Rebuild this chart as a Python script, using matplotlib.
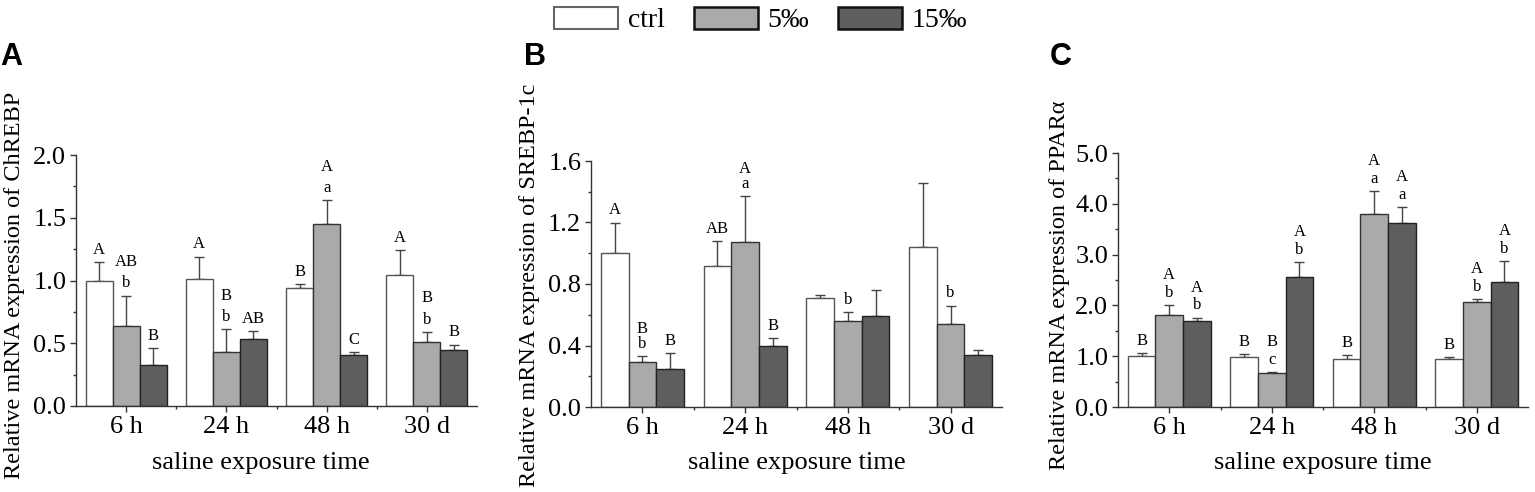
"""Relative mRNA expression of three lipid genes after saline exposure (panels A-C)."""
import matplotlib
matplotlib.use("Agg")
import matplotlib.pyplot as plt
from matplotlib.patches import Patch
from matplotlib.ticker import MultipleLocator, FixedLocator
import numpy as np

plt.rcParams["font.family"] = ["Liberation Serif", "DejaVu Serif"]

W, H = 1535, 492

groups = ["6 h", "24 h", "48 h", "30 d"]
series = ["ctrl", "5‰", "15‰"]
fills = ["#ffffff", "#aaaaaa", "#5e5e5e"]
edges = ["#555555", "#333333", "#222222"]

# panel A: ChREBP
a_mean = {"ctrl": [1.00, 1.01, 0.94, 1.04],
          "5‰": [0.64, 0.43, 1.45, 0.51],
          "15‰": [0.33, 0.53, 0.41, 0.45]}
a_sd = {"ctrl": [0.15, 0.18, 0.03, 0.20],
        "5‰": [0.24, 0.18, 0.19, 0.08],
        "15‰": [0.13, 0.07, 0.02, 0.04]}
a_let = {"ctrl": ["A", "A", "B", "A"],
         "5‰": ["AB\nb", "B\nb", "A\na", "B\nb"],
         "15‰": ["B", "AB", "C", "B"]}

# panel B: SREBP-1c
b_mean = {"ctrl": [1.00, 0.92, 0.71, 1.04],
          "5‰": [0.29, 1.07, 0.56, 0.54],
          "15‰": [0.25, 0.40, 0.59, 0.34]}
b_sd = {"ctrl": [0.20, 0.16, 0.02, 0.42],
        "5‰": [0.04, 0.30, 0.06, 0.12],
        "15‰": [0.10, 0.05, 0.17, 0.03]}
b_let = {"ctrl": ["A", "AB", "", ""],
         "5‰": ["B\nb", "A\na", "b", "b"],
         "15‰": ["B", "B", "", ""]}

# panel C: PPARα
c_mean = {"ctrl": [1.00, 0.99, 0.95, 0.94],
          "5‰": [1.82, 0.67, 3.80, 2.06],
          "15‰": [1.70, 2.56, 3.63, 2.47]}
c_sd = {"ctrl": [0.06, 0.05, 0.08, 0.05],
        "5‰": [0.18, 0.02, 0.45, 0.06],
        "15‰": [0.06, 0.29, 0.31, 0.40]}
c_let = {"ctrl": ["B", "B", "B", "B"],
         "5‰": ["A\nb", "B\nc", "A\na", "A\nb"],
         "15‰": ["A\nb", "A\nb", "A\na", "A\nb"]}

panels = [
    # tag, gene, mean, sd, letters, ymax, ystep, axes rect (px), ylabel x px, letter spacing, xlabel x
    ("A", "ChREBP", a_mean, a_sd, a_let, 2.0, 0.5, (76, 86, 401, 251), 15, 1.45, 0.461),
    ("B", "SREBP-1c", b_mean, b_sd, b_let, 1.6, 0.4, (591, 85, 411, 246), 530, 0.95, 0.5),
    ("C", "PPARα", c_mean, c_sd, c_let, 5.0, 1.0, (1118, 85, 410, 254), 1060, 1.15, 0.5),
]
tag_x = [0, 524, 1050]

fig = plt.figure(figsize=(W / 100, H / 100), dpi=100)
width = 0.27
x = np.arange(len(groups))

for k, (tag, gene, mean, sd, lets, ymax, ystep, rect, ylx, lsp, xlx) in enumerate(panels):
    l, b, w, h = rect
    ax = fig.add_axes([l / W, b / H, w / W, h / H])
    for j, s in enumerate(series):
        xs = x + (j - 1) * width
        ax.bar(xs, mean[s], width, color=fills[j], edgecolor=edges[j], linewidth=1.0, zorder=2)
        ax.errorbar(xs, mean[s], yerr=[np.zeros(len(groups)), sd[s]], fmt="none",
                    ecolor="#444444", elinewidth=1.0, capsize=3.5, capthick=1.0, zorder=1)
        for xi, m, e, t in zip(xs, mean[s], sd[s], lets[s]):
            if t:
                ax.annotate(t, (xi, m + e), xytext=(0, 3), textcoords="offset points",
                            ha="center", va="bottom", fontsize=12, linespacing=lsp)

    ax.set_xlim(-0.5, 3.5)
    ax.set_ylim(0, ymax)
    ax.set_xticks(x)
    ax.set_xticklabels(groups)
    ax.xaxis.set_minor_locator(FixedLocator([0.5, 1.5, 2.5]))
    ax.yaxis.set_major_locator(MultipleLocator(ystep))
    ax.yaxis.set_minor_locator(MultipleLocator(ystep / 2))
    ax.set_yticklabels([f"{v:.1f}" for v in ax.get_yticks()])
    ax.tick_params(axis="both", which="major", direction="out", length=4, width=1,
                   color="#333333", labelsize=19, pad=3)
    ax.tick_params(axis="both", which="minor", direction="out", length=2.5, width=1,
                   color="#333333")
    for side in ("top", "right"):
        ax.spines[side].set_visible(False)
    for side in ("left", "bottom"):
        ax.spines[side].set_color("#333333")
        ax.spines[side].set_linewidth(1.0)

    ax.set_xlabel("saline exposure time", fontsize=19)
    ax.xaxis.set_label_coords(xlx, (H - 463 - b) / h)
    ax.xaxis.label.set_va("center")
    ax.set_ylabel(f"Relative mRNA expression of {gene}", fontsize=17.5)
    ax.yaxis.set_label_coords(ylx / W, 1 - 285 / H, transform=fig.transFigure)
    ax.yaxis.label.set_va("center")

    fig.text(tag_x[k] / W, 1 - 57 / H, tag, family=["Liberation Sans", "DejaVu Sans"],
             fontweight="bold", fontsize=22, ha="left", va="center")

handles = [
    Patch(facecolor=fills[0], edgecolor="#666666", linewidth=1.5, label=series[0]),
    Patch(facecolor=fills[1], edgecolor="#111111", linewidth=1.8, label=series[1]),
    Patch(facecolor=fills[2], edgecolor="#111111", linewidth=1.8, label=series[2]),
]
fig.legend(handles=handles, loc="center", bbox_to_anchor=(761 / W, 1 - 20 / H), ncol=3,
           frameon=False, fontsize=20, handlelength=2.3, handleheight=0.87,
           handletextpad=0.35, columnspacing=1.05, borderpad=0)

fig.savefig("out.png", dpi=100)
